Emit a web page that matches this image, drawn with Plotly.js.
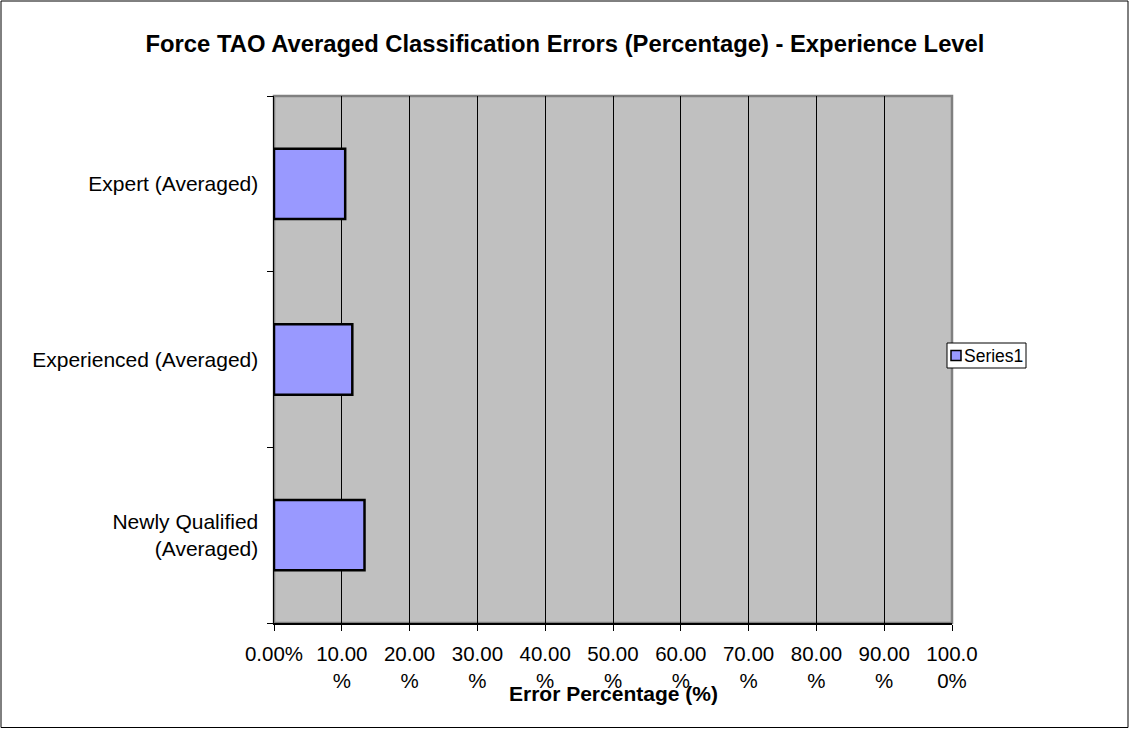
<!DOCTYPE html>
<html>
<head>
<meta charset="utf-8">
<script src="https://cdn.plot.ly/plotly-3.0.1.min.js"></script>
<style>html,body{margin:0;padding:0;background:#fff;}#chart{width:1130px;height:729px;}</style>
</head>
<body>
<div id="chart"></div>
<script>
// Data
const categories = ['Newly Qualified (Averaged)', 'Experienced (Averaged)', 'Expert (Averaged)'];
const categoryLabels = ['Newly Qualified<br>(Averaged)', 'Experienced (Averaged)', 'Expert (Averaged)'];
const errorPct = [13.35, 11.55, 10.5];
const seriesName = 'Series1';
const seriesColor = '#9999FF';
const xTickVals = [0, 10, 20, 30, 40, 50, 60, 70, 80, 90, 100];
const xTickText = ['0.00%', '10.00<br>%', '20.00<br>%', '30.00<br>%', '40.00<br>%', '50.00<br>%', '60.00<br>%', '70.00<br>%', '80.00<br>%', '90.00<br>%', '100.0<br>0%'];
const chartTitle = 'Force TAO Averaged Classification Errors (Percentage) - Experience Level';
const xTitle = 'Error Percentage (%)';

const FONT = 'Liberation Sans, Arial, sans-serif';

const trace = {
  type: 'bar',
  orientation: 'h',
  name: seriesName,
  x: errorPct,
  y: categories,
  marker: {color: seriesColor, line: {color: '#000000', width: 2.5}},
  showlegend: false,
  hoverinfo: 'x+y'
};

const L = 274, R = 952, T = 96, B = 623, W = 1130, H = 729;
const pw = R - L, ph = B - T;
function px2x(p){ return (p - L) / pw; }
function py2y(p){ return (B - p) / ph; }

// legend box geometry (pixels)
const lgL = 947, lgR = 1026, lgT = 343, lgB = 368, lgMid = (lgT + lgB) / 2;

const layout = {
  width: W, height: H,
  margin: {l: L, r: W - R, t: T, b: H - B, pad: 0},
  paper_bgcolor: '#ffffff',
  plot_bgcolor: '#C0C0C0',
  font: {family: FONT, size: 20, color: '#000000'},
  title: {text: '<b>' + chartTitle + '</b>', font: {family: FONT, size: 23.8, color: '#000'}, x: 0.5, xref: 'container', xanchor: 'center', y: 1 - 44 / H, yanchor: 'middle'},
  bargap: 0.6,
  showlegend: false,
  xaxis: {
    range: [0, 100], tickmode: 'array', tickvals: xTickVals, ticktext: xTickText,
    showgrid: true, gridcolor: '#000000', gridwidth: 1,
    showline: true, linecolor: '#000000', linewidth: 1.5,
    ticks: 'outside', ticklen: 6, tickcolor: '#000000', tickwidth: 1,
    ticklabelstandoff: 6,
    zeroline: false, automargin: false, fixedrange: true,
    tickfont: {family: FONT, size: 20.5, color: '#000'}
  },
  yaxis: {
    type: 'category', categoryorder: 'array', categoryarray: categories,
    tickmode: 'array', tickvals: categories, ticktext: categoryLabels,
    tickson: 'boundaries',
    showgrid: false, showline: true, linecolor: '#000000', linewidth: 1.5,
    ticks: 'outside', ticklen: 6, tickcolor: '#000000', tickwidth: 1,
    ticklabelstandoff: 10,
    zeroline: false, automargin: false, fixedrange: true,
    tickfont: {family: FONT, size: 21, color: '#000'}
  },
  shapes: [
    {type: 'rect', xref: 'paper', yref: 'paper', x0: 0, x1: 1, y0: 0, y1: 1,
     line: {color: '#808080', width: 2.5}, layer: 'below'},
    {type: 'rect', xref: 'paper', yref: 'paper', x0: px2x(1), x1: px2x(1128), y0: py2y(727.5), y1: py2y(1),
     line: {color: '#000000', width: 1}, fillcolor: 'rgba(0,0,0,0)', layer: 'below'},
    // legend box
    {type: 'rect', xref: 'paper', yref: 'paper', x0: px2x(lgL), x1: px2x(lgR), y0: py2y(lgB), y1: py2y(lgT),
     line: {color: '#000000', width: 1}, fillcolor: '#ffffff', layer: 'above'},
    // legend swatch
    {type: 'rect', xref: 'paper', yref: 'paper', x0: px2x(lgL + 4), x1: px2x(lgL + 14), y0: py2y(lgMid + 5), y1: py2y(lgMid - 5),
     line: {color: '#000000', width: 1.5}, fillcolor: seriesColor, layer: 'above'}
  ],
  annotations: [
    {text: '<b>' + xTitle + '</b>', xref: 'paper', yref: 'paper', x: 0.5, y: py2y(693),
     xanchor: 'center', yanchor: 'middle', showarrow: false,
     font: {family: FONT, size: 21, color: '#000'}},
    {text: seriesName, xref: 'paper', yref: 'paper', x: px2x(lgL + 15), y: py2y(lgMid),
     xanchor: 'left', yanchor: 'middle', showarrow: false,
     font: {family: FONT, size: 17.5, color: '#000'}}
  ]
};

Plotly.newPlot('chart', [trace], layout, {displayModeBar: false, staticPlot: true});
</script>
</body>
</html>
